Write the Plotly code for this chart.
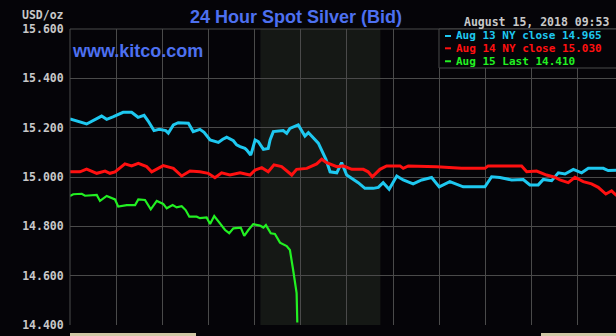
import plotly.graph_objects as go

# ---- data (hours since midnight, price USD/oz) ----
aug13_hours = [0.00, 0.72, 1.37, 1.59, 1.86, 2.30, 2.67, 2.95, 3.21, 3.38, 3.64, 3.86, 4.15, 4.26, 4.48,
               4.69, 5.13, 5.34, 5.63, 5.81, 6.07, 6.43, 6.62, 6.79, 7.08, 7.22, 7.37, 7.58, 7.66, 7.83,
               7.87, 8.02, 8.16, 8.38, 8.59, 8.67, 8.81, 9.24, 9.39, 9.53, 9.89, 10.18, 10.33, 10.54,
               10.76, 11.09, 11.27, 11.56, 11.77, 11.99, 12.21, 12.49, 12.78, 13.14, 13.36, 13.57, 13.83,
               14.16, 14.44, 14.66, 14.87, 15.24, 15.67, 16.00, 16.46, 17.04, 17.98, 18.27, 18.63, 19.14,
               19.64, 19.93, 20.29, 20.51, 20.87, 21.16, 21.45, 21.81, 22.17, 22.46, 23.11, 23.32, 23.66, 24.00]
aug13_values = [15.235, 15.215, 15.247, 15.234, 15.244, 15.262, 15.262, 15.242, 15.250, 15.228, 15.188,
                15.193, 15.188, 15.178, 15.211, 15.220, 15.218, 15.184, 15.193, 15.181, 15.150, 15.140,
                15.153, 15.161, 15.147, 15.130, 15.123, 15.116, 15.109, 15.089, 15.100, 15.150, 15.143,
                15.112, 15.116, 15.150, 15.184, 15.188, 15.177, 15.197, 15.211, 15.166, 15.180, 15.161,
                15.137, 15.072, 15.021, 15.017, 15.058, 15.008, 14.995, 14.977, 14.954, 14.954, 14.958,
                14.977, 14.950, 15.004, 14.988, 14.981, 14.972, 14.988, 14.998, 14.960, 14.981, 14.960,
                14.960, 15.001, 14.998, 14.988, 14.990, 14.968, 14.968, 14.990, 14.985, 15.017, 15.012,
                15.031, 15.017, 15.035, 15.035, 15.026, 15.028, 15.028]

aug14_hours = [0.00, 0.43, 0.72, 1.16, 1.52, 1.73, 1.95, 2.38, 2.67, 2.96, 3.32, 3.54, 4.04, 4.48, 4.84,
               5.20, 5.63, 5.99, 6.28, 6.57, 6.93, 7.37, 7.80, 8.02, 8.31, 8.59, 8.84, 9.17, 9.61, 9.82,
               10.26, 10.69, 10.91, 11.12, 11.56, 11.84, 12.21, 12.71, 12.92, 13.10, 13.43, 13.72, 14.30,
               14.44, 14.66, 15.89, 16.97, 17.98, 18.12, 19.57, 19.79, 20.22, 20.65, 21.01, 21.23, 21.59,
               21.88, 22.24, 22.60, 22.89, 23.22, 23.47, 23.66, 24.00]
aug14_values = [15.021, 15.021, 15.032, 15.015, 15.024, 15.015, 15.021, 15.053, 15.045, 15.055, 15.042,
                15.021, 15.046, 15.035, 15.004, 15.024, 15.021, 15.015, 14.997, 15.017, 15.008, 15.017,
                15.008, 15.028, 15.038, 15.021, 15.049, 15.042, 15.008, 15.031, 15.035, 15.053, 15.072,
                15.058, 15.042, 15.045, 15.031, 15.031, 15.021, 15.001, 15.031, 15.045, 15.045, 15.035,
                15.045, 15.042, 15.035, 15.035, 15.045, 15.045, 15.021, 15.024, 15.008, 14.999, 14.988,
                14.977, 14.999, 14.981, 14.972, 14.958, 14.931, 14.944, 14.927, 14.927]

aug15_hours = [0.00, 0.14, 0.51, 0.65, 1.16, 1.30, 1.59, 1.95, 2.09, 2.46, 2.82, 2.96, 3.25, 3.50, 3.76,
               4.04, 4.19, 4.45, 4.62, 4.84, 5.01, 5.17, 5.49, 5.63, 5.92, 6.07, 6.25, 6.50, 6.72, 6.90,
               7.08, 7.40, 7.55, 7.73, 7.94, 8.23, 8.38, 8.49, 8.70, 8.88, 9.10, 9.39, 9.53, 9.67, 9.75,
               9.82, 9.85]
aug15_values = [14.923, 14.930, 14.932, 14.924, 14.927, 14.903, 14.923, 14.909, 14.880, 14.886, 14.886,
                14.909, 14.907, 14.869, 14.903, 14.891, 14.873, 14.886, 14.877, 14.882, 14.866, 14.839,
                14.839, 14.833, 14.836, 14.809, 14.842, 14.809, 14.785, 14.772, 14.792, 14.795, 14.761,
                14.785, 14.809, 14.803, 14.795, 14.805, 14.772, 14.769, 14.734, 14.720, 14.704, 14.623,
                14.569, 14.529, 14.410]

series_names = ["Aug 13 NY close 14.965", "Aug 14 NY close 15.030", "Aug 15 Last 14.410"]
series_colors = ["#1ec8f0", "#ff1010", "#22f022"]
y_ticks = [14.4, 14.6, 14.8, 15.0, 15.2, 15.4, 15.6]
y_tick_labels = ["14.400", "14.600", "14.800", "15.000", "15.200", "15.400", "15.600"]
session_start, session_end = 8.25, 13.45
title_text = "24 Hour Spot Silver (Bid)"
timestamp_text = "August 15, 2018 09:53"

BG = "#050408"
GRID = "#4a4a4a"
LABEL = "#c8c8c8"
MONO = "DejaVu Sans Mono"

fig = go.Figure()
for hrs, vals, col, w in [(aug13_hours, aug13_values, series_colors[0], 3),
                          (aug14_hours, aug14_values, series_colors[1], 3),
                          (aug15_hours, aug15_values, series_colors[2], 2.2)]:
    fig.add_trace(go.Scatter(x=hrs, y=vals, mode="lines", line=dict(color=col, width=w),
                             hoverinfo="skip", showlegend=False))

shapes = [
    dict(type="rect", xref="x", yref="paper", x0=session_start, x1=session_end, y0=0, y1=1,
         fillcolor="#151815", line=dict(width=0), layer="below"),
    # beige session bars under the plot
    dict(type="rect", xref="paper", yref="paper", x0=0, x1=0.2308, y0=-0.037, y1=-0.027,
         fillcolor="#cfc7a4", line=dict(width=0), layer="above"),
    dict(type="rect", xref="paper", yref="paper", x0=0.8626, x1=1.0, y0=-0.037, y1=-0.027,
         fillcolor="#cfc7a4", line=dict(width=0), layer="above"),
    # left and top border
    dict(type="line", xref="paper", yref="paper", x0=0, x1=0, y0=0, y1=1, line=dict(color=GRID, width=1)),
    dict(type="line", xref="paper", yref="paper", x0=0, x1=1, y0=1, y1=1, line=dict(color=GRID, width=1)),
    # legend box
    dict(type="rect", xref="paper", yref="paper", x0=0.6758, x1=1.01, y0=0.8682, y1=1.0,
         fillcolor=BG, line=dict(color=GRID, width=1), layer="above"),
]
leg_rows = [0.9764, 0.9348, 0.8910]
for yy, col in zip(leg_rows, series_colors):
    shapes.append(dict(type="line", xref="paper", yref="paper", x0=0.6868, x1=0.6978, y0=yy, y1=yy,
                       line=dict(color=col, width=2), layer="above"))

annotations = [
    dict(text="<b>" + title_text + "</b>", xref="paper", yref="paper", x=0.4148, y=1.0405,
         xanchor="center", yanchor="middle", showarrow=False,
         font=dict(family="Liberation Sans, Arial", size=18, color="#4d70f0")),
    dict(text="<b>www.kitco.com</b>", xref="paper", yref="paper", x=0.0, y=0.9257, xanchor="left",
         yanchor="middle", showarrow=False,
         font=dict(family="Liberation Sans, Arial", size=18, color="#4d70f0")),
    dict(text="<b>" + timestamp_text + "</b>", xref="paper", yref="paper", x=0.9908, y=1.0236,
         xanchor="right", yanchor="middle", showarrow=False, font=dict(family=MONO, size=11.5, color=LABEL)),
    dict(text="<b>USD/oz</b>", xref="paper", yref="paper", x=0, xshift=-4, y=1.0473, xanchor="right",
         yanchor="middle", showarrow=False, font=dict(family=MONO, size=11.5, color=LABEL)),
]
for yy, col, name in zip(leg_rows, series_colors, series_names):
    annotations.append(dict(text="<b>" + name + "</b>", xref="paper", yref="paper", x=0.7051, y=yy,
                            xanchor="left", yanchor="middle", showarrow=False, borderpad=0,
                            font=dict(family=MONO, size=11, color=col)))

fig.update_layout(
    width=616, height=336,
    margin=dict(l=70, r=0, t=29, b=11),
    paper_bgcolor=BG, plot_bgcolor="rgba(0,0,0,0)",
    xaxis=dict(range=[0, 23.66], dtick=2, tick0=0, showticklabels=False, showgrid=True,
               gridcolor=GRID, gridwidth=1, zeroline=False, fixedrange=True),
    yaxis=dict(range=[14.4, 15.6], tickvals=y_ticks, ticktext=["<b>%s</b>" % t for t in y_tick_labels],
               showgrid=True, gridcolor=GRID, gridwidth=1, zeroline=False, ticks="outside", ticklen=3,
               tickcolor="rgba(0,0,0,0)", tickfont=dict(family=MONO, size=11.5, color=LABEL)),
    shapes=shapes, annotations=annotations,
)
fig.write_html("out.html")
